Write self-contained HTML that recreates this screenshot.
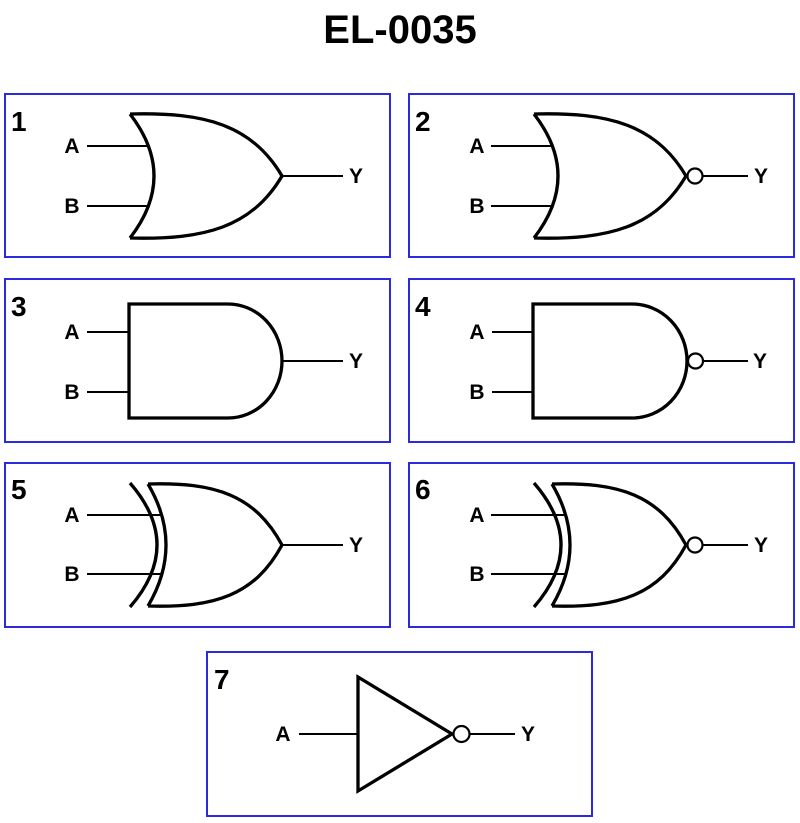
<!DOCTYPE html>
<html>
<head>
<meta charset="utf-8">
<style>
html,body{margin:0;padding:0;background:#fff;}
svg{display:block;}
text{font-family:"Liberation Sans",Arial,sans-serif;font-weight:bold;fill:#000;}
</style>
</head>
<body>
<svg width="800" height="823" viewBox="0 0 800 823" xmlns="http://www.w3.org/2000/svg">
<rect width="800" height="823" fill="#fff"/>
<text x="400" y="43" font-size="40" text-anchor="middle">EL-0035</text>

<g fill="none" stroke="#2b2bdc" stroke-width="2">
<rect x="5" y="94" width="385" height="163"/>
<rect x="409" y="94" width="385" height="163"/>
<rect x="5" y="279" width="385" height="163"/>
<rect x="409" y="279" width="385" height="163"/>
<rect x="5" y="463" width="385" height="164"/>
<rect x="409" y="463" width="385" height="164"/>
<rect x="207" y="652" width="385" height="164"/>
</g>

<!-- panel numbers -->
<g font-size="28">
<text x="11" y="131">1</text>
<text x="415" y="131">2</text>
<text x="11" y="316">3</text>
<text x="415" y="316">4</text>
<text x="11" y="499">5</text>
<text x="415" y="499">6</text>
<text x="214" y="689">7</text>
</g>

<!-- Gate 1: OR -->
<g>
<g fill="none" stroke="#000" stroke-width="1.9">
<line x1="87" y1="146" x2="149" y2="146"/>
<line x1="87" y1="206" x2="149" y2="206"/>
<line x1="282" y1="176" x2="343" y2="176"/>
</g>
<path d="M130,114 Q178,176 130,238 M130,114 C205,112 252,125 282,176 M130,238 C205,240 252,227 282,176" fill="none" stroke="#000" stroke-width="3.3" stroke-linejoin="round"/>
<g font-size="21" text-anchor="middle">
<text x="72" y="153">A</text>
<text x="72" y="213">B</text>
</g>
</g>
<text x="356" y="183" font-size="21" text-anchor="middle">Y</text>

<!-- Gate 2: NOR -->
<g transform="translate(404,0)">
<g fill="none" stroke="#000" stroke-width="1.9">
<line x1="87" y1="146" x2="149" y2="146"/>
<line x1="87" y1="206" x2="149" y2="206"/>
</g>
<path d="M130,114 Q178,176 130,238 M130,114 C205,112 252,125 282,176 M130,238 C205,240 252,227 282,176" fill="none" stroke="#000" stroke-width="3.3" stroke-linejoin="round"/>
<g font-size="21" text-anchor="middle">
<text x="73" y="153">A</text>
<text x="73" y="213">B</text>
</g>
</g>
<circle cx="695" cy="176" r="7.5" fill="#fff" stroke="#000" stroke-width="2.2"/>
<line x1="703" y1="176" x2="748" y2="176" stroke="#000" stroke-width="1.9"/>
<text x="761" y="183" font-size="21" text-anchor="middle">Y</text>

<!-- Gate 3: AND -->
<g fill="none" stroke="#000" stroke-width="1.9">
<line x1="87" y1="332" x2="129" y2="332"/>
<line x1="87" y1="392" x2="129" y2="392"/>
<line x1="282" y1="361" x2="343" y2="361"/>
</g>
<path d="M129,304 H228 A54,57 0 0 1 228,418 H129 Z" fill="none" stroke="#000" stroke-width="3.3"/>
<g font-size="21" text-anchor="middle">
<text x="72" y="339">A</text>
<text x="72" y="399">B</text>
<text x="356" y="368">Y</text>
</g>

<!-- Gate 4: NAND -->
<g fill="none" stroke="#000" stroke-width="1.9">
<line x1="492" y1="332" x2="533" y2="332"/>
<line x1="492" y1="392" x2="533" y2="392"/>
<line x1="704" y1="361" x2="748" y2="361"/>
</g>
<path d="M533,304 H632 A55,57 0 0 1 632,418 H533 Z" fill="none" stroke="#000" stroke-width="3.3"/>
<circle cx="695.5" cy="361" r="7.5" fill="#fff" stroke="#000" stroke-width="2.2"/>
<g font-size="21" text-anchor="middle">
<text x="477" y="339">A</text>
<text x="477" y="399">B</text>
<text x="760" y="368">Y</text>
</g>

<!-- Gate 5: XOR -->
<g>
<g fill="none" stroke="#000" stroke-width="1.9">
<line x1="87" y1="515" x2="162" y2="515"/>
<line x1="87" y1="574" x2="162" y2="574"/>
</g>
<path d="M130,483 Q184,545 130,607 M148,484 Q184,545 148,606 M148,484 C215,482 255,495 282,545 M148,606 C215,608 255,595 282,545" fill="none" stroke="#000" stroke-width="3.3" stroke-linejoin="round"/>
</g>
<line x1="282" y1="545" x2="343" y2="545" stroke="#000" stroke-width="1.9"/>
<g font-size="21" text-anchor="middle">
<text x="72" y="522">A</text>
<text x="72" y="581">B</text>
<text x="356" y="552">Y</text>
</g>

<!-- Gate 6: XNOR -->
<g transform="translate(404,0)">
<g fill="none" stroke="#000" stroke-width="1.9">
<line x1="87" y1="515" x2="162" y2="515"/>
<line x1="87" y1="574" x2="162" y2="574"/>
</g>
<path d="M130,483 Q184,545 130,607 M148,484 Q184,545 148,606 M148,484 C215,482 255,495 282,545 M148,606 C215,608 255,595 282,545" fill="none" stroke="#000" stroke-width="3.3" stroke-linejoin="round"/>
<g font-size="21" text-anchor="middle">
<text x="73" y="522">A</text>
<text x="73" y="581">B</text>
</g>
</g>
<circle cx="695" cy="545" r="7.5" fill="#fff" stroke="#000" stroke-width="2.2"/>
<line x1="703" y1="545" x2="748" y2="545" stroke="#000" stroke-width="1.9"/>
<text x="761" y="552" font-size="21" text-anchor="middle">Y</text>

<!-- Gate 7: NOT -->
<line x1="299" y1="734" x2="358" y2="734" stroke="#000" stroke-width="1.9"/>
<path d="M358,677 L452,734 L358,791 Z" fill="none" stroke="#000" stroke-width="3.3" stroke-linejoin="miter"/>
<circle cx="461.5" cy="734" r="8" fill="#fff" stroke="#000" stroke-width="2.2"/>
<line x1="470" y1="734" x2="515" y2="734" stroke="#000" stroke-width="1.9"/>
<g font-size="21" text-anchor="middle">
<text x="283" y="741">A</text>
<text x="528" y="741">Y</text>
</g>
</svg>
</body>
</html>
